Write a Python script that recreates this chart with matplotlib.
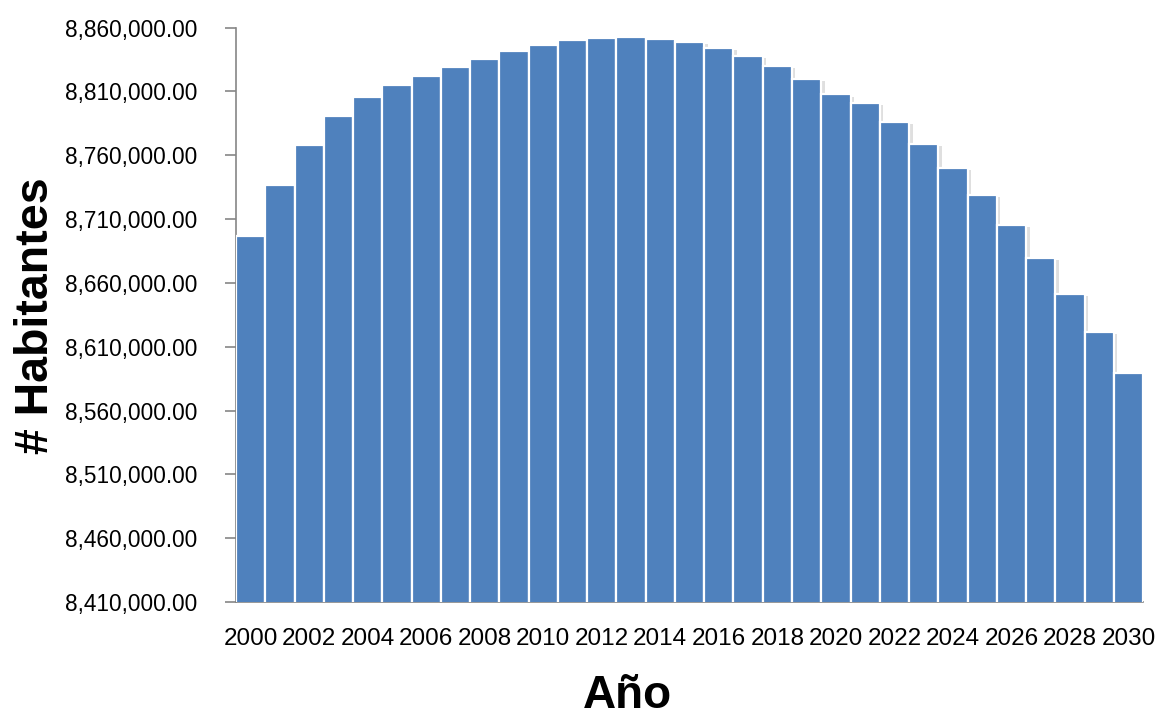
import matplotlib
matplotlib.use("Agg")
import numpy as np
import matplotlib.pyplot as plt
import matplotlib.patheffects as pe
from matplotlib.ticker import FuncFormatter

# Population projection by year
years = list(range(2000, 2031))
habitantes = [
    8696800, 8736700, 8768300, 8791000, 8805900, 8814700, 8821800, 8828800,
    8835600, 8841400, 8846100, 8850000, 8851800, 8852600, 8851300, 8848400,
    8843700, 8837700, 8829600, 8819900, 8807600, 8801100, 8786000, 8768900,
    8750000, 8728600, 8705100, 8679300, 8651400, 8621300, 8589200,
]
year_labels = [str(y) if (y - 2000) % 2 == 0 else "" for y in years]
y_min, y_max, y_step = 8410000, 8860000, 50000

bar_color = "#4F81BD"
axis_color = "#868686"
font = ["Liberation Sans", "DejaVu Sans"]

fig = plt.figure(figsize=(11.57, 7.19), dpi=100)
ax = fig.add_axes([0.204, 0.1627, 0.784, 0.7990])

x = list(range(len(years)))
bars = ax.bar(x, habitantes, width=1.0, color=bar_color, edgecolor="white",
              linewidth=1.6, zorder=3)
for b in bars:
    b.set_path_effects([pe.SimplePatchShadow(offset=(2.5, -1.5), alpha=0.25,
                                             shadow_rgbFace="#808080"),
                        pe.Normal()])

ax.set_xlim(-0.5, len(years) - 0.5)
ax.set_ylim(y_min, y_max)
ax.set_yticks(np.arange(y_min, y_max + 1, y_step))
ax.yaxis.set_major_formatter(FuncFormatter(lambda v, p: f"{v:,.2f}"))

ax.set_xticks(x)
ax.set_xticklabels(year_labels, family=font, fontsize=17.5, color="#000000")
ax.tick_params(axis="x", length=0, pad=19)
ax.tick_params(axis="y", length=8, width=1.2, color=axis_color, pad=20,
               labelsize=16.3, labelcolor="#000000")
for lab in ax.get_yticklabels():
    lab.set_family(font)

for side in ("top", "right"):
    ax.spines[side].set_visible(False)
for side in ("left", "bottom"):
    ax.spines[side].set_color(axis_color)
    ax.spines[side].set_linewidth(1.2)

fig.text(0.031, 0.5605, "# Habitantes", rotation=90, ha="center", va="center",
         fontsize=33.5, fontweight="bold", family=font)
fig.text(0.542, 0.002, "Año", ha="center", va="bottom", fontsize=33,
         fontweight="bold", family=font)

fig.savefig("out.png", dpi=100, facecolor="white")
